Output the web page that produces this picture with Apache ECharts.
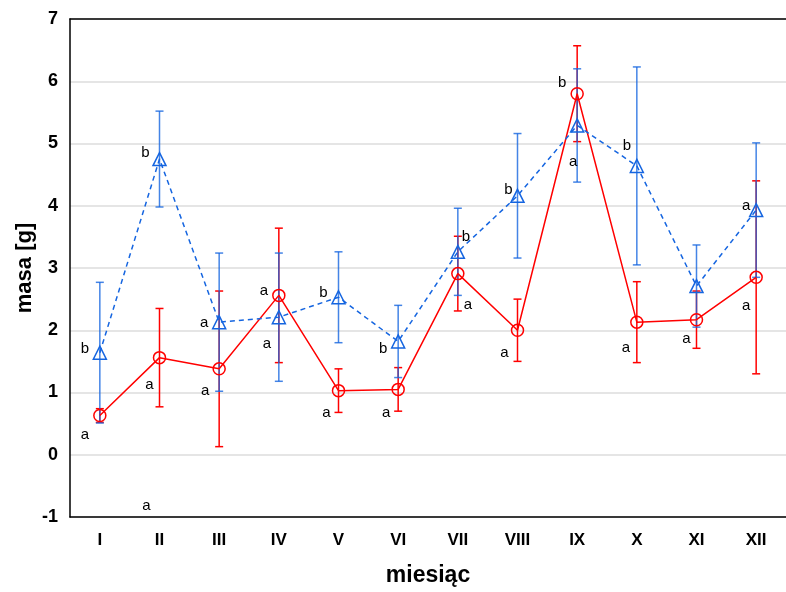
<!DOCTYPE html>
<html>
<head>
<meta charset="utf-8">
<script src="https://cdn.jsdelivr.net/npm/echarts@6/dist/echarts.min.js"></script>
<style>
  html, body { margin: 0; padding: 0; background: #fff; }
  #chart { width: 786px; height: 592px; }
</style>
</head>
<body>
<div id="chart"></div>
<script>
// Months (Roman numerals)
const months = ['I', 'II', 'III', 'IV', 'V', 'VI', 'VII', 'VIII', 'IX', 'X', 'XI', 'XII'];

// Series 1 (red, circles): mean mass and error half-width
const redMean = [0.63, 1.56, 1.38, 2.56, 1.03, 1.05, 2.91, 2.00, 5.80, 2.13, 2.17, 2.85];
const redErr  = [0.11, 0.79, 1.25, 1.08, 0.35, 0.35, 0.60, 0.50, 0.77, 0.65, 0.46, 1.55];

// Series 2 (blue, triangles): mean mass and error half-width
const blueMean = [1.64, 4.75, 2.13, 2.21, 2.53, 1.82, 3.26, 4.16, 5.29, 4.64, 2.71, 3.93];
const blueErr  = [1.13, 0.77, 1.11, 1.03, 0.73, 0.58, 0.70, 1.00, 0.91, 1.59, 0.66, 1.08];

// Significance letters: [month index, value, letter]
const letters = [
  [0, 1.76, 'b'], [0, 0.39, 'a'],
  [1, 4.91, 'b'], [1, 1.18, 'a'], [1, -0.75, 'a'],
  [2, 2.18, 'a'], [2, 1.09, 'a'],
  [3, 2.70, 'a'], [3, 1.85, 'a'],
  [4, 2.67, 'b'], [4, 0.74, 'a'],
  [5, 1.76, 'b'], [5, 0.73, 'a'],
  [6, 3.57, 'b'], [6, 2.47, 'a'],
  [7, 4.32, 'b'], [7, 1.70, 'a'],
  [8, 6.04, 'b'], [8, 4.77, 'a'],
  [9, 5.03, 'b'], [9, 1.78, 'a'],
  [10, 1.92, 'a'],
  [11, 4.07, 'a'], [11, 2.45, 'a']
];
// Horizontal pixel shift of each letter from its month tick
const letterShift = [-15, -15, -14, -10, -13, -15, -14, -15, -12, -15, -12, -15, -12,
                     8, 10, -9, -13, -15, -4, -10, -11, -10, -10, -10];

const RED = '#ff0000';
const BLUE = '#1565e0';
const FONT = "'Liberation Sans', Arial, sans-serif";

function errorData(mean, err) {
  return mean.map((m, i) => [i, +(m - err[i]).toFixed(3), +(m + err[i]).toFixed(3)]);
}

function errorBarRenderer(color, opacity) {
  return function (params, api) {
    const lo = api.coord([api.value(0), api.value(1)]);
    const hi = api.coord([api.value(0), api.value(2)]);
    const cap = 4;
    const style = { stroke: color, lineWidth: 1.5, opacity: opacity };
    return {
      type: 'group',
      children: [
        { type: 'line', shape: { x1: lo[0], y1: lo[1], x2: hi[0], y2: hi[1] }, style },
        { type: 'line', shape: { x1: lo[0] - cap, y1: lo[1], x2: lo[0] + cap, y2: lo[1] }, style },
        { type: 'line', shape: { x1: hi[0] - cap, y1: hi[1], x2: hi[0] + cap, y2: hi[1] }, style }
      ]
    };
  };
}

const chart = echarts.init(document.getElementById('chart'), null, { renderer: 'canvas' });

chart.setOption({
  animation: false,
  backgroundColor: '#fff',
  grid: { left: 70, top: 19, width: 723, height: 503.5, containLabel: false },
  xAxis: [
    {
      type: 'category',
      data: months,
      position: 'bottom',
      boundaryGap: true,
      axisLine: { onZero: false, lineStyle: { color: '#000', width: 1.5 } },
      axisTick: { inside: true, alignWithLabel: true, length: 5, lineStyle: { color: '#000', width: 1.2 } },
      axisLabel: { color: '#000', fontFamily: FONT, fontWeight: 'bold', fontSize: 17, margin: 15 },
      name: 'miesiąc',
      nameLocation: 'middle',
      nameGap: 47,
      nameMoveOverlap: false,
      nameTextStyle: { color: '#000', fontFamily: FONT, fontWeight: 'bold', fontSize: 23 }
    },
    {
      type: 'category',
      data: months,
      position: 'top',
      boundaryGap: true,
      axisLine: { onZero: false, lineStyle: { color: '#000', width: 1.5 } },
      axisTick: { inside: true, alignWithLabel: true, length: 5, lineStyle: { color: '#000', width: 1.2 } },
      axisLabel: { show: false }
    }
  ],
  yAxis: {
    type: 'value',
    min: -1,
    max: 7,
    interval: 1,
    axisLine: { show: true, lineStyle: { color: '#000', width: 1.5 } },
    axisTick: { show: false },
    splitLine: { lineStyle: { color: '#dcdcdc', width: 1.5 } },
    axisLabel: { color: '#000', fontFamily: FONT, fontWeight: 'bold', fontSize: 18, margin: 12 },
    name: 'masa [g]',
    nameLocation: 'middle',
    nameGap: 34,
    nameMoveOverlap: false,
    nameTextStyle: { color: '#000', fontFamily: FONT, fontWeight: 'bold', fontSize: 22 }
  },
  series: [
    {
      type: 'custom',
      name: 'red-err',
      renderItem: errorBarRenderer(RED, 1),
      encode: { x: 0, y: [1, 2] },
      data: errorData(redMean, redErr),
      z: 2
    },
    {
      type: 'custom',
      name: 'blue-err',
      renderItem: errorBarRenderer(BLUE, 0.8),
      encode: { x: 0, y: [1, 2] },
      data: errorData(blueMean, blueErr),
      z: 3
    },
    {
      type: 'line',
      name: 'red',
      data: redMean,
      symbol: 'circle',
      symbolSize: 12,
      itemStyle: { color: 'rgba(0,0,0,0)', borderColor: RED, borderWidth: 1.5 },
      lineStyle: { color: RED, width: 1.5 },
      z: 4
    },
    {
      type: 'line',
      name: 'blue',
      data: blueMean,
      symbol: 'triangle',
      symbolSize: 13,
      itemStyle: { color: 'rgba(0,0,0,0)', borderColor: BLUE, borderWidth: 1.5 },
      lineStyle: { color: BLUE, width: 1.5, type: [5, 4] },
      z: 5
    },
    {
      type: 'custom',
      name: 'letters',
      renderItem: function (params, api) {
        const p = api.coord([api.value(0), api.value(1)]);
        return {
          type: 'text',
          x: p[0] + letterShift[params.dataIndex],
          y: p[1] + 4,
          style: {
            text: letters[params.dataIndex][2],
            fill: '#000',
            font: '15px "Liberation Sans", Arial, sans-serif',
            textAlign: 'center',
            textVerticalAlign: 'middle'
          }
        };
      },
      encode: { x: 0, y: 1 },
      data: letters.map(l => [l[0], l[1]]),
      z: 6
    }
  ]
});
</script>
</body>
</html>
